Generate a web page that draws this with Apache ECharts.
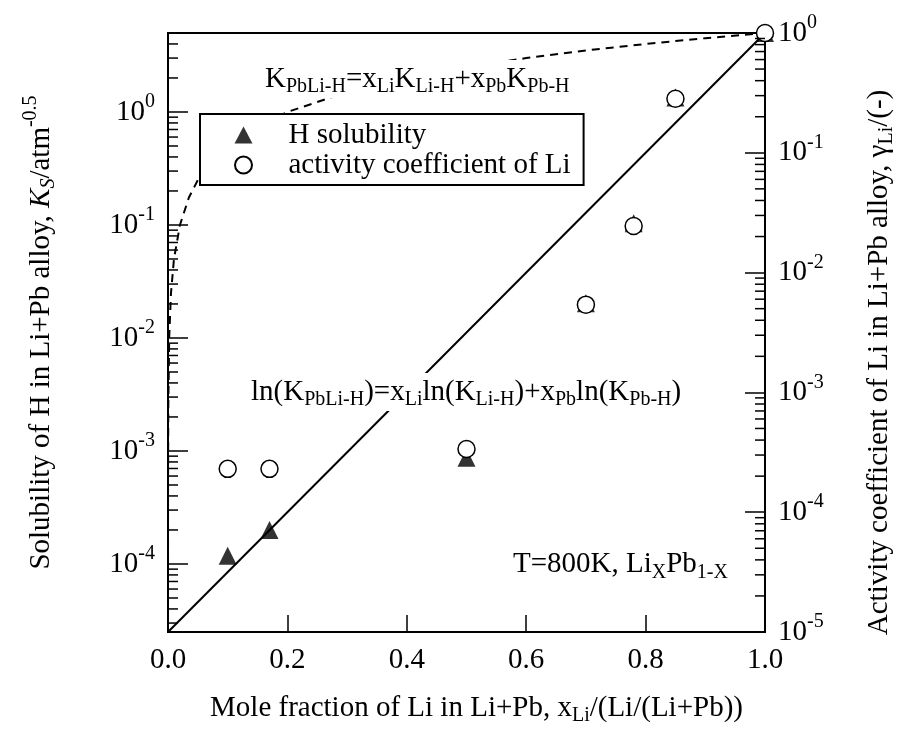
<!DOCTYPE html>
<html><head><meta charset="utf-8">
<script src="https://cdn.jsdelivr.net/npm/echarts@6/dist/echarts.min.js"></script>
<style>html,body{margin:0;padding:0;background:#fff}#c{width:905px;height:731px}</style>
</head><body><div id="c"></div>
<script>
// ---- data ----
const xLi = [0.1, 0.17, 0.5, 0.7, 0.78, 0.85, 1.0];
const hSolubility = [1.18e-4, 2.0e-4, 8.7e-4, 0.0203, 0.1035, 1.34, 5.0];
const activityLi = [2.3e-4, 2.3e-4, 3.37e-4, 5.4e-3, 0.0245, 0.283, 1.0];
const lnMixLine = [[0, 2.5e-5], [1, 5.0]];
const linMixCurveX = [0, 0.0001, 0.0005, 0.002, 0.005, 0.01, 0.02, 0.035, 0.05, 0.075, 0.1, 0.15, 0.2, 0.3, 0.4, 0.5, 0.6, 0.7, 0.8, 0.9, 1.0];
const linMixCurveK = [2.5e-5, 5.2e-4, 2.5e-3, 0.01, 0.025, 0.05, 0.1, 0.175, 0.25, 0.375, 0.5, 0.75, 1.0, 1.5, 2.0, 2.5, 3.0, 3.5, 4.0, 4.5, 5.0];
const xTickLabels = [0, 0.2, 0.4, 0.6, 0.8, 1.0];
const leftRange = [2.5e-5, 5];
const rightRange = [1e-5, 1];
// minor tick positions on the log axes (m x 10^e)
const minorMultipliers = [2, 3, 4, 5, 6, 7, 8, 9];
const leftDecades = [-5, -4, -3, -2, -1, 0];
const rightDecades = [-5, -4, -3, -2, -1];

const FONT = 'Liberation Serif';
const minorValues = (decades, range) => {
  const out = [];
  decades.forEach(e => minorMultipliers.forEach(m => {
    const v = m * Math.pow(10, e);
    if (v > range[0] * 1.001 && v < range[1] * 0.999) out.push(v);
  }));
  return out;
};
// label only exact powers of ten: 10^n
const powLabel = v => {
  const e = Math.log10(v);
  return Math.abs(e - Math.round(e)) < 1e-6 ? '{b|10}{sup|' + Math.round(e) + '}' : '';
};
const powRich = {
  b: {fontFamily: FONT, fontSize: 29, color: '#000'},
  sup: {fontFamily: FONT, fontSize: 20, color: '#000', padding: [0, 0, 20, 0]}
};
const subRich = {
  t: {fontFamily: FONT, fontSize: 29, color: '#000'},
  i: {fontFamily: FONT, fontSize: 29, color: '#000', fontStyle: 'italic'},
  s: {fontFamily: FONT, fontSize: 20, color: '#000', padding: [16, 0, 0, 0]},
  is: {fontFamily: FONT, fontSize: 20, color: '#000', fontStyle: 'italic', padding: [16, 0, 0, 0]},
  sup: {fontFamily: FONT, fontSize: 20, color: '#000', padding: [0, 0, 20, 0]}
};

const chart = echarts.init(document.getElementById('c'));
const logAxis = (range, pos, extra) => Object.assign({
  type: 'log', min: range[0], max: range[1], position: pos,
  axisLine: {show: true, lineStyle: {color: '#000', width: 2}},
  axisTick: {show: true, inside: true, length: 20, lineStyle: {color: '#000', width: 1.5}},
  minorTick: {show: false},
  axisLabel: {show: true, margin: 13, formatter: powLabel, rich: powRich},
  splitLine: {show: false}
}, extra || {});

// short inward tick drawn at a data value through the axis scale
const minorTickSeries = (name, yAxisIndex, xEdge, dir, values) => ({
  type: 'custom', name, yAxisIndex, silent: true, z: 5,
  data: values.map(v => [xEdge, v]),
  renderItem: (params, api) => {
    const p = api.coord([api.value(0), api.value(1)]);
    return {type: 'line', shape: {x1: p[0], y1: p[1], x2: p[0] + dir * 10, y2: p[1]},
            style: {stroke: '#000', lineWidth: 1.5}};
  }
});

chart.setOption({
  animation: false,
  backgroundColor: '#fff',
  textStyle: {fontFamily: FONT},
  grid: {left: 168, right: 135, top: 33, bottom: 97, show: true, borderColor: '#000', borderWidth: 2, backgroundColor: 'transparent'},
  legend: {
    left: 200, top: 114, orient: 'vertical',
    borderColor: '#000', borderWidth: 2, backgroundColor: '#fff',
    padding: [6, 13, 5, 34], itemGap: 0, itemWidth: 18, itemHeight: 17,
    symbolKeepAspect: true,
    textStyle: {fontFamily: FONT, fontSize: 29, color: '#000', lineHeight: 30, padding: [0, 0, 0, 31]},
    data: ['H solubility', 'activity coefficient of Li']
  },
  xAxis: {
    type: 'value', min: 0, max: 1, interval: 0.2, position: 'bottom',
    axisLine: {onZero: false, lineStyle: {color: '#000', width: 2}},
    axisTick: {inside: true, length: 17, lineStyle: {color: '#000', width: 1.5}},
    axisLabel: {margin: 14, fontFamily: FONT, fontSize: 29, color: '#000', customValues: xTickLabels, formatter: v => v.toFixed(1)},
    splitLine: {show: false},
    name: '{t|Mole fraction of Li in Li+Pb, x}{s|Li}{t|/(Li/(Li+Pb))}',
    nameLocation: 'middle', nameGap: 58,
    nameTextStyle: {rich: subRich, padding: [0, 0, 0, 20]}
  },
  yAxis: [
    logAxis(leftRange, 'left', {
      name: '{t|Solubility of H in Li+Pb alloy, }{i|K}{is|S}{t|/atm}{sup|-0.5}',
      nameLocation: 'middle', nameRotate: 90, nameGap: 107,
      nameTextStyle: {rich: subRich}
    }),
    logAxis(rightRange, 'right', {
      name: '{t|Activity coefficient of Li in Li+Pb alloy, γ}{s|Li}{t|/(-)}',
      nameLocation: 'middle', nameRotate: 90, nameGap: 96,
      nameTextStyle: {rich: subRich, padding: [0, 60, 0, 0]}
    })
  ],
  series: [
    {type: 'line', name: 'ln mix', yAxisIndex: 0, data: lnMixLine, symbol: 'none',
     lineStyle: {color: '#000', width: 2}, z: 2},
    {type: 'line', name: 'lin mix', yAxisIndex: 0, data: linMixCurveX.map((x, i) => [x, linMixCurveK[i]]),
     symbol: 'none', smooth: false, lineStyle: {color: '#000', width: 2, type: [8, 6]}, z: 2},
    {type: 'scatter', name: 'H solubility', yAxisIndex: 0, data: xLi.map((x, i) => [x, hSolubility[i]]),
     symbol: 'triangle', symbolSize: 18, itemStyle: {color: '#000'}, z: 3},
    {type: 'scatter', name: 'activity coefficient of Li', yAxisIndex: 1, data: xLi.map((x, i) => [x, activityLi[i]]),
     symbol: 'circle', symbolSize: 17, itemStyle: {color: '#fff', borderColor: '#000', borderWidth: 1.5, opacity: 1}, z: 4},
    minorTickSeries('left minor ticks', 0, 0, 1, minorValues(leftDecades, leftRange)),
    minorTickSeries('right minor ticks', 1, 1, -1, minorValues(rightDecades, rightRange))
  ],
  graphic: [
    {type: 'text', left: 262, top: 60, z: 100,
     style: {text: '{t|K}{s|PbLi-H}{t|=x}{s|Li}{t|K}{s|Li-H}{t|+x}{s|Pb}{t|K}{s|Pb-H}', rich: subRich,
             backgroundColor: '#fff', padding: [1, 3, 1, 3]}},
    {type: 'text', left: 248, top: 373, z: 100,
     style: {text: '{t|ln(K}{s|PbLi-H}{t|)=x}{s|Li}{t|ln(K}{s|Li-H}{t|)+x}{s|Pb}{t|ln(K}{s|Pb-H}{t|)}', rich: subRich,
             backgroundColor: '#fff', padding: [1, 3, 1, 3]}},
    {type: 'text', left: 513, top: 550, z: 100,
     style: {text: '{t|T=800K, Li}{s|X}{t|Pb}{s|1-X}', rich: subRich}}
  ]
});
</script></body></html>
